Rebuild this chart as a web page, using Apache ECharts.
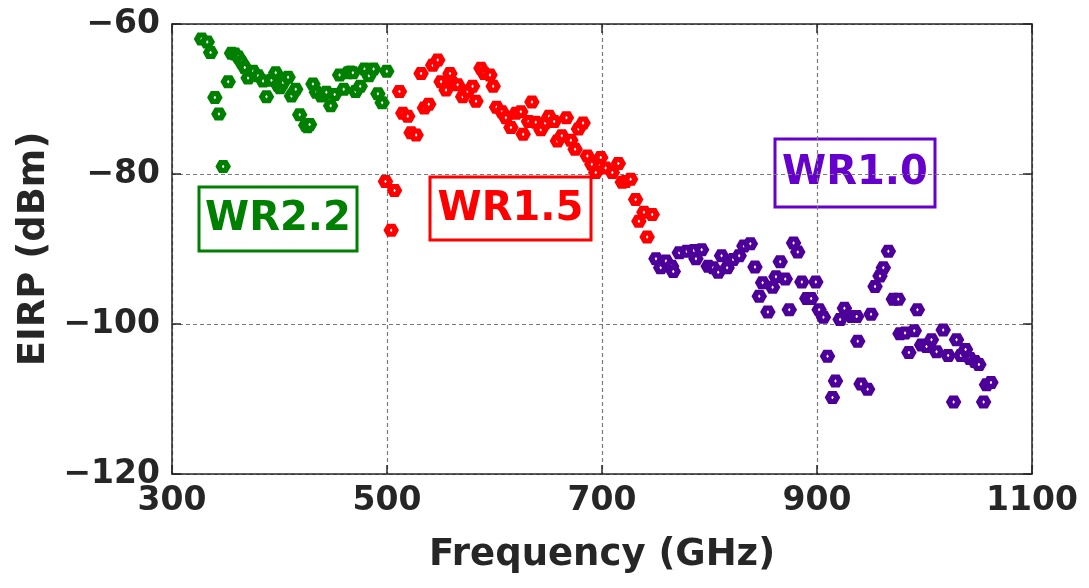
<!DOCTYPE html>
<html>
<head>
<meta charset="utf-8">
<script src="https://cdn.jsdelivr.net/npm/echarts@6/dist/echarts.min.js"></script>
<style>
  html, body { margin: 0; padding: 0; background: #fff; }
  #main { width: 1089px; height: 588px; }
</style>
</head>
<body>
<div id="main"></div>
<script>
// frequency (GHz), EIRP (dBm) pairs
var wr22 = [
    [327.5, -62.0], [332.8, -62.4], [335.9, -63.8], [339.9, -69.8], [343.6, -72.0],
    [347.6, -79.0], [352.3, -67.7], [355.4, -63.9], [358.5, -64.0], [361.6, -64.4],
    [364.7, -65.1], [367.7, -65.8], [370.8, -67.2], [375.5, -66.3], [380.1, -66.9],
    [384.8, -67.6], [387.9, -69.7], [392.5, -67.5], [396.5, -66.5], [398.7, -68.2],
    [400.5, -68.5], [403.3, -67.8], [408.0, -67.1], [411.1, -69.6], [415.1, -68.7],
    [418.8, -72.1], [424.4, -73.5], [426.0, -73.7], [428.0, -73.4], [431.1, -68.0],
    [434.3, -69.1], [438.9, -69.6], [441.0, -69.4], [443.6, -69.1], [447.6, -70.9],
    [451.3, -69.4], [455.9, -66.8], [459.7, -68.7], [463.7, -66.5], [466.0, -66.4],
    [468.3, -66.5], [470.8, -69.0], [475.1, -68.3], [479.1, -66.0], [483.2, -66.9],
    [487.5, -66.0], [491.5, -69.3], [495.5, -70.5], [499.8, -66.3]
];
var wr15 = [
    [498.6, -81.0], [503.9, -87.5], [507.0, -82.2], [511.6, -69.0], [514.7, -71.9],
    [519.3, -72.3], [522.4, -74.5], [527.1, -74.8], [531.7, -66.6], [534.8, -71.2],
    [538.8, -70.7], [542.5, -65.5], [547.2, -64.8], [550.3, -67.7], [554.9, -68.8],
    [558.6, -66.6], [561.1, -67.9], [565.7, -68.1], [570.4, -69.7], [575.0, -69.0],
    [579.6, -68.3], [582.8, -70.3], [587.4, -65.9], [590.5, -66.6], [595.8, -66.8],
    [598.8, -68.3], [601.9, -71.1], [606.9, -71.7], [610.6, -72.5], [615.3, -73.8],
    [619.9, -71.9], [624.5, -71.7], [626.7, -74.7], [631.6, -73.0], [634.8, -70.4],
    [638.4, -73.1], [643.1, -74.1], [647.1, -73.2], [650.8, -72.3], [655.5, -73.0],
    [658.5, -75.6], [662.6, -74.9], [666.9, -72.5], [671.0, -75.5], [675.0, -76.7],
    [678.1, -74.0], [682.4, -73.2], [686.4, -77.6], [690.5, -78.7], [694.2, -79.8],
    [698.8, -77.8], [703.4, -79.2], [709.6, -79.8], [715.2, -78.6], [718.9, -81.1],
    [722.0, -81.0], [726.6, -80.7], [731.3, -83.4], [734.3, -86.3], [739.0, -85.1],
    [742.0, -88.4], [746.7, -85.4]
];
var wr10 = [
    [750.2, -91.3], [754.6, -92.5], [759.5, -91.6], [764.8, -92.3], [766.3, -93.0],
    [771.9, -90.5], [778.8, -90.3], [785.6, -90.2], [787.4, -91.3], [792.7, -90.1],
    [798.8, -92.3], [803.5, -92.5], [808.1, -93.1], [811.2, -90.9], [816.4, -92.5],
    [822.0, -91.4], [827.6, -90.9], [832.0, -89.6], [838.0, -89.3], [842.3, -92.4],
    [846.3, -96.3], [849.4, -94.5], [854.3, -98.4], [858.7, -95.1], [861.8, -93.7],
    [865.8, -91.7], [870.5, -94.0], [874.2, -98.1], [878.2, -89.2], [882.1, -90.4],
    [885.9, -94.4], [890.5, -96.6], [894.6, -96.6], [898.9, -94.4], [902.0, -98.1],
    [906.0, -99.1], [909.8, -104.3], [914.4, -109.8], [917.2, -107.6], [921.5, -99.4],
    [925.5, -97.9], [932.3, -99.0], [936.9, -99.0], [937.9, -102.3], [941.0, -108.0],
    [947.1, -108.7], [950.3, -98.7], [954.0, -95.0], [958.6, -93.6], [961.7, -92.5],
    [966.4, -90.3], [971.0, -96.7], [975.6, -96.7], [977.2, -101.3], [981.9, -101.2],
    [985.5, -103.8], [990.5, -100.9], [993.4, -98.1], [997.3, -102.8], [1001.9, -103.0],
    [1006.5, -102.1], [1011.2, -103.7], [1017.4, -100.8], [1022.0, -104.2], [1027.1, -110.4],
    [1029.8, -102.1], [1033.9, -104.2], [1038.2, -103.4], [1042.3, -104.6], [1046.9, -105.0],
    [1050.6, -105.4], [1055.0, -110.4], [1057.7, -108.1], [1061.8, -107.8]
];
var bandNames = ['WR2.2', 'WR1.5', 'WR1.0'];

var hexagon = 'path://M-2,0L-1,-1.73L1,-1.73L2,0L1,1.73L-1,1.73Z';
var axisColor = '#262626';
var fontFamily = '"DejaVu Sans", sans-serif';

function minusLabel(v) {
    return v < 0 ? '\u2212' + Math.abs(v) : String(v);
}

function scatter(name, data, color) {
    return {
        name: name,
        type: 'scatter',
        data: data,
        symbol: hexagon,
        symbolSize: [9, 8],
        itemStyle: {
            color: '#ffffff',
            borderColor: color,
            borderWidth: 5.5,
            opacity: 1
        },
        emphasis: { disabled: true }
    };
}

function bandLabel(text, color, x, y, w, h) {
    return {
        type: 'group',
        children: [
            {
                type: 'rect',
                shape: { x: x, y: y, width: w, height: h },
                style: { fill: 'transparent', stroke: color, lineWidth: 3 }
            },
            {
                type: 'text',
                style: {
                    text: text,
                    x: x + w / 2,
                    y: y + h / 2 + 1,
                    fill: color,
                    font: 'bold 40px ' + fontFamily,
                    align: 'center',
                    verticalAlign: 'middle'
                }
            }
        ]
    };
}

var gridLine = {
    show: true,
    lineStyle: { color: '#7a7a7a', type: [4, 3], width: 1.2 }
};

var myChart = echarts.init(document.getElementById('main'));
myChart.setOption({
    animation: false,
    backgroundColor: '#ffffff',
    grid: {
        left: 172,
        right: 57,
        top: 24,
        bottom: 114
    },
    xAxis: [
        {
            type: 'value',
            min: 300,
            max: 1100,
            interval: 200,
            name: 'Frequency (GHz)',
            nameLocation: 'middle',
            nameGap: 63,
            nameTextStyle: { fontFamily: fontFamily, fontWeight: 'bold', fontSize: 37, color: axisColor },
            axisLine: { show: true, lineStyle: { color: axisColor, width: 1.5 } },
            axisTick: { show: true, inside: true, length: 9, lineStyle: { color: axisColor, width: 1.5 } },
            axisLabel: { fontFamily: fontFamily, fontWeight: 'bold', fontSize: 33, color: axisColor, margin: 11, formatter: function (v) { return String(v); } },
            splitLine: gridLine
        },
        {
            type: 'value',
            position: 'top',
            min: 300,
            max: 1100,
            interval: 200,
            axisLine: { show: true, lineStyle: { color: axisColor, width: 1.5 } },
            axisTick: { show: true, inside: true, length: 9, lineStyle: { color: axisColor, width: 1.5 } },
            axisLabel: { show: false },
            splitLine: { show: false }
        }
    ],
    yAxis: [
        {
            type: 'value',
            min: -120,
            max: -60,
            interval: 20,
            name: 'EIRP (dBm)',
            nameLocation: 'middle',
            nameGap: 116,
            nameTextStyle: { fontFamily: fontFamily, fontWeight: 'bold', fontSize: 37, color: axisColor },
            axisLine: { show: true, lineStyle: { color: axisColor, width: 1.5 } },
            axisTick: { show: true, inside: true, length: 9, lineStyle: { color: axisColor, width: 1.5 } },
            axisLabel: { fontFamily: fontFamily, fontWeight: 'bold', fontSize: 33, color: axisColor, margin: 12, formatter: minusLabel },
            splitLine: gridLine
        },
        {
            type: 'value',
            position: 'right',
            min: -120,
            max: -60,
            interval: 20,
            axisLine: { show: true, lineStyle: { color: axisColor, width: 1.5 } },
            axisTick: { show: true, inside: true, length: 9, lineStyle: { color: axisColor, width: 1.5 } },
            axisLabel: { show: false },
            splitLine: { show: false }
        }
    ],
    series: [
        scatter(bandNames[0], wr22, '#008000'),
        scatter(bandNames[1], wr15, '#ff0000'),
        scatter(bandNames[2], wr10, '#4c0099')
    ],
    graphic: [
        bandLabel(bandNames[0], '#008000', 199, 187, 158, 64),
        bandLabel(bandNames[1], '#ff0000', 430, 177, 161, 63),
        bandLabel(bandNames[2], '#6600cc', 775, 139, 160, 68)
    ]
});
</script>
</body>
</html>
